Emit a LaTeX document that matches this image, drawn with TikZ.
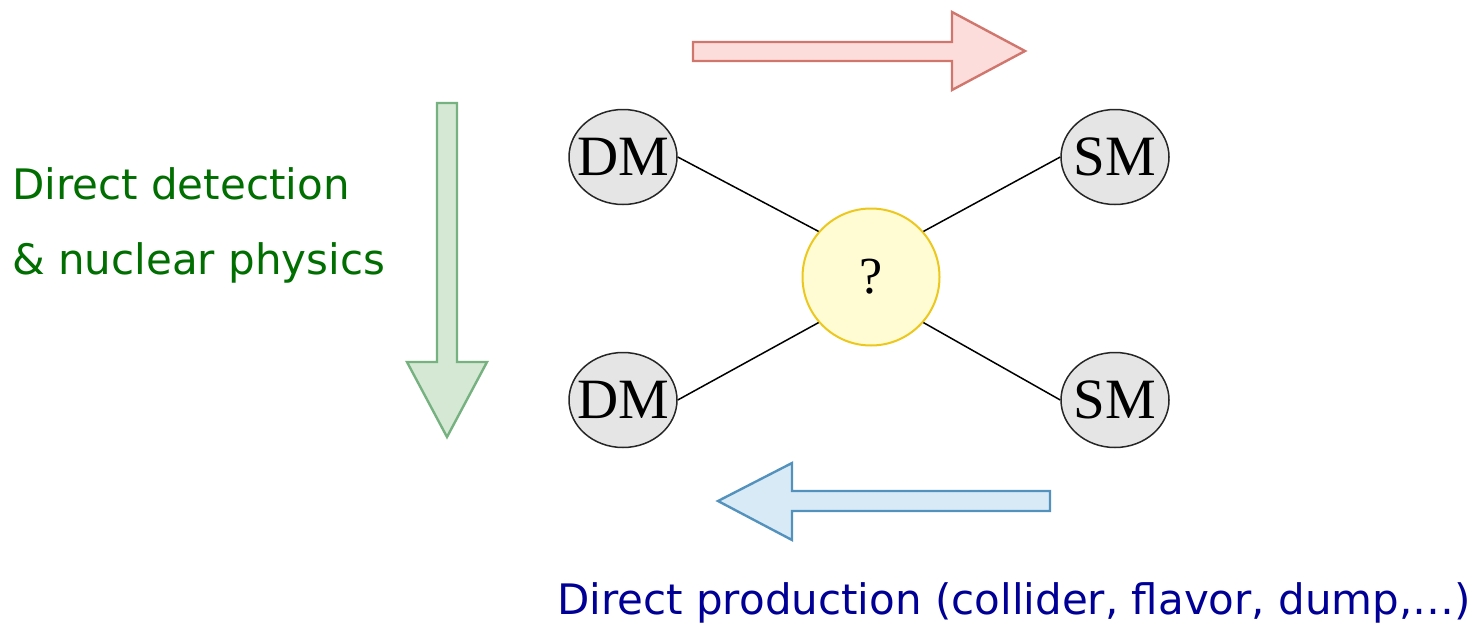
\documentclass[tikz,border=0pt]{standalone}
\usepackage{fontspec}
\setmainfont{Liberation Serif}
\newfontfamily\labelfont{DejaVu Sans}
\usepackage{tikz}
\usetikzlibrary{arrows.meta,positioning,calc,shapes.geometric}
\usepackage{xcolor}
\definecolor{redfill}{RGB}{252,221,220}
\definecolor{reddraw}{RGB}{208,118,108}
\definecolor{greenfill}{RGB}{212,232,211}
\definecolor{greendraw}{RGB}{118,178,128}
\definecolor{bluefill}{RGB}{216,234,246}
\definecolor{bluedraw}{RGB}{84,146,190}
\definecolor{qfill}{RGB}{255,252,212}
\definecolor{qdraw}{RGB}{236,200,30}
\definecolor{dmgray}{RGB}{229,229,229}
\definecolor{textgreen}{RGB}{0,110,0}
\definecolor{textblue}{RGB}{0,0,150}

\begin{document}
\begin{tikzpicture}[
      x=1pt, y=-1pt,
      particle/.style={draw=black!85, fill=dmgray, ellipse, line width=1.5pt,
                       minimum width=108pt, minimum height=95pt,
                       inner xsep=-9pt, inner ysep=0pt,
                       font=\fontsize{57}{61}\selectfont},
      mediator/.style={draw=qdraw, fill=qfill, circle, line width=2pt,
                       minimum size=137pt, inner sep=0pt,
                       font=\fontsize{52}{56}\selectfont},
      leg/.style={line width=1.5pt, black},
      flow/.style={line width=2.4pt, line join=miter},
      caption/.style={font=\labelfont\fontsize{42}{46}\selectfont, inner sep=0pt},
    ]
    \useasboundingbox (0,0) rectangle (1478,624);

    % vertex
    \node[mediator] (q) at (871,277) {?};

    % external legs
    \node[particle] (dmin)  at (623,157)  {DM};
    \node[particle] (dmout) at (623,400)  {DM};
    \node[particle] (smin)  at (1115,157) {SM};
    \node[particle] (smout) at (1115,400) {SM};

    \draw[leg] (dmin.east) -- (q.139);
    \draw[leg] (dmout.east) -- (q.221);
    \draw[leg] (smin.west) -- (q.41);
    \draw[leg] (smout.west) -- (q.319);

    % block arrows
    \draw[flow, draw=reddraw, fill=redfill]
      (693,42) -- (952,42) -- (952,12) -- (1025,51) -- (952,90) -- (952,61)
      -- (693,61) -- cycle;
    \draw[flow, draw=greendraw, fill=greenfill]
      (437,103) -- (457,103) -- (457,362) -- (487,362) -- (447,437)
      -- (407,362) -- (437,362) -- cycle;
    \draw[flow, draw=bluedraw, fill=bluefill]
      (1050,491) -- (792,491) -- (792,463) -- (718,501) -- (792,540)
      -- (792,511) -- (1050,511) -- cycle;

    % labels
    \node[caption, text=textgreen, anchor=base west] (dd) at (12,199)
      {Direct detection};
    \node[caption, text=textgreen, anchor=base west] (np) at (12,274)
      {\& nuclear physics};
    \node[caption, text=textblue, anchor=base west] (dp) at (557,614)
      {Direct production (collider, flavor, dump,…)};
\end{tikzpicture}
\end{document}
